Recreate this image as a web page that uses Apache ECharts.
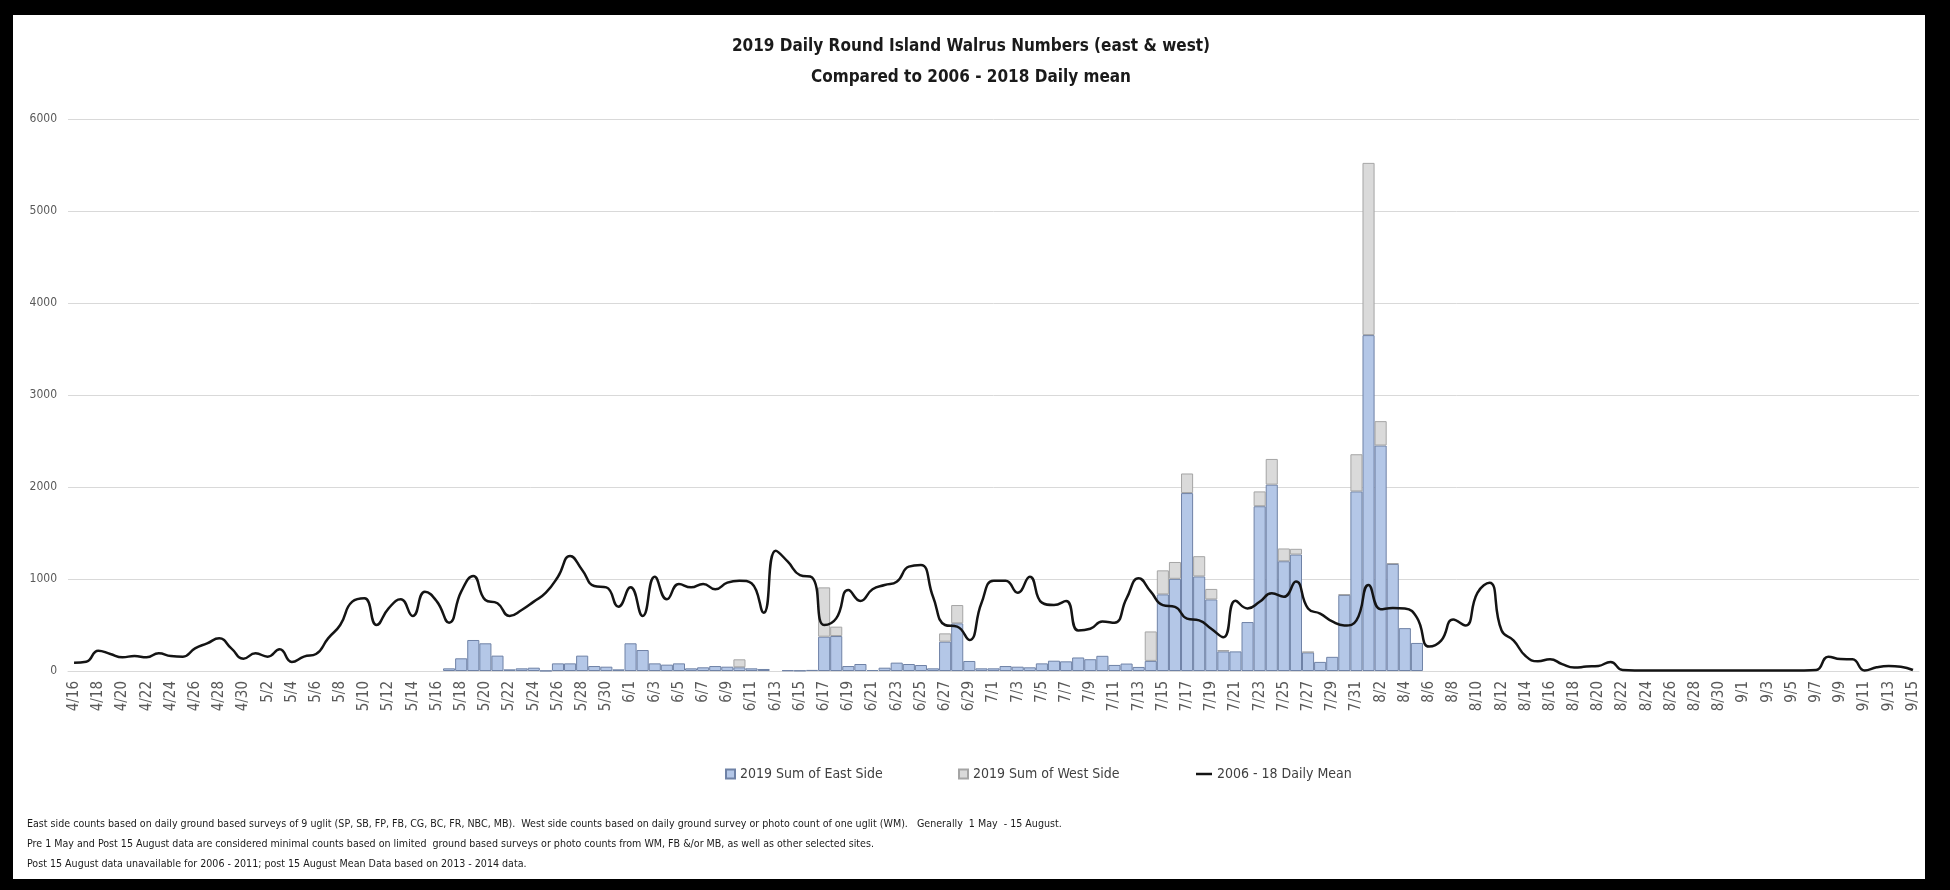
<!DOCTYPE html>
<html><head><meta charset="utf-8">
<script src="https://cdn.jsdelivr.net/npm/echarts@6/dist/echarts.min.js"></script>
<style>
html,body{margin:0;padding:0;background:#000;width:1950px;height:890px;overflow:hidden}
#chart{position:absolute;left:13px;top:15px;width:1912px;height:864px;background:#fff;box-sizing:border-box}
</style></head><body><div id="chart"></div>
<script>
// ---------- DATA ----------
const categories = [
 '4/16','4/17','4/18','4/19','4/20','4/21','4/22','4/23','4/24','4/25','4/26','4/27','4/28','4/29','4/30',
 '5/1','5/2','5/3','5/4','5/5','5/6','5/7','5/8','5/9','5/10','5/11','5/12','5/13','5/14','5/15','5/16','5/17','5/18','5/19','5/20','5/21','5/22','5/23','5/24','5/25','5/26','5/27','5/28','5/29','5/30','5/31',
 '6/1','6/2','6/3','6/4','6/5','6/6','6/7','6/8','6/9','6/10','6/11','6/12','6/13','6/14','6/15','6/16','6/17','6/18','6/19','6/20','6/21','6/22','6/23','6/24','6/25','6/26','6/27','6/28','6/29','6/30',
 '7/1','7/2','7/3','7/4','7/5','7/6','7/7','7/8','7/9','7/10','7/11','7/12','7/13','7/14','7/15','7/16','7/17','7/18','7/19','7/20','7/21','7/22','7/23','7/24','7/25','7/26','7/27','7/28','7/29','7/30','7/31',
 '8/1','8/2','8/3','8/4','8/5','8/6','8/7','8/8','8/9','8/10','8/11','8/12','8/13','8/14','8/15','8/16','8/17','8/18','8/19','8/20','8/21','8/22','8/23','8/24','8/25','8/26','8/27','8/28','8/29','8/30','8/31',
 '9/1','9/2','9/3','9/4','9/5','9/6','9/7','9/8','9/9','9/10','9/11','9/12','9/13','9/14','9/15'
];
const _ = null;
const eastSide = [
 _,_,_,_,_,_,_,_,_,_,_,_,_,_,_,
 _,_,_,_,_,_,_,_,_,_,_,_,_,_,_,_,29,138,337,301,167,18,29,36,3,83,83,167,54,47,18,
 301,228,83,69,83,29,40,54,47,40,29,22,_,8,5,12,373,380,54,76,11,36,91,76,65,29,319,518,109,29,
 29,54,47,40,83,112,105,147,128,165,66,81,44,110,833,1002,1934,1028,778,213,213,532,1791,2026,1193,1266,202,99,154,826,1952,
 3651,2451,1163,466,305,_,_,_,_,_,_,_,_,_,_,_,_,_,_,_,_,_,_,_,_,_,_,_,_,_,_,
 _,_,_,_,_,_,_,_,_,_,_,_,_,_,_
];
const westSide = [
 _,_,_,_,_,_,_,_,_,_,_,_,_,_,_,
 _,_,_,_,_,_,_,_,_,_,_,_,_,_,_,_,_,_,_,_,_,_,_,_,_,_,_,_,_,_,_,
 _,_,_,_,_,_,_,_,_,87,_,_,_,_,_,_,536,102,_,_,_,_,_,_,_,_,90,199,_,_,
 _,_,_,_,_,_,_,_,_,_,_,_,_,320,261,183,213,220,114,15,_,_,161,279,139,62,7,_,_,7,404,
 1872,265,8,_,_,_,_,_,_,_,_,_,_,_,_,_,_,_,_,_,_,_,_,_,_,_,_,_,_,_,_,
 _,_,_,_,_,_,_,_,_,_,_,_,_,_,_
];
const dailyMean = [
 90,100,221,185,149,163,149,192,163,156,246,300,355,246,134,
 192,156,236,98,156,185,355,500,754,790,500,681,779,598,862,754,525,862,1033,772,736,598,663,754,851,1025,1250,1098,924,909,699,
 909,598,1025,779,946,909,946,888,960,982,953,634,1308,1188,1043,1018,500,572,880,761,888,935,971,1134,1152,808,500,482,337,736,
 982,982,851,1025,743,717,760,440,459,539,525,789,1009,862,716,697,569,550,459,367,763,679,752,844,807,972,679,624,539,495,550,
 936,672,686,679,580,265,330,560,495,850,960,440,330,160,105,128,75,37,48,55,99,10,6,6,6,6,6,6,6,6,6,
 6,6,6,6,6,6,10,156,130,127,5,40,54,47,11
];
const yTickValues = [0,1000,2000,3000,4000,5000,6000];
const seriesNames = ['2019 Sum of East Side','2019 Sum of West Side','2006 - 18 Daily Mean'];
const titleLines = ['2019 Daily Round Island Walrus Numbers (east & west)','Compared to 2006 - 2018 Daily mean'];
const footnotes = [
 'East side counts based on daily ground based surveys of 9 uglit (SP, SB, FP, FB, CG, BC, FR, NBC, MB).  West side counts based on daily ground survey or photo count of one uglit (WM).   Generally  1 May  - 15 August.',
 'Pre 1 May and Post 15 August data are considered minimal counts based on limited  ground based surveys or photo counts from WM, FB &/or MB, as well as other selected sites.',
 'Post 15 August data unavailable for 2006 - 2011; post 15 August Mean Data based on 2013 - 2014 data.'
];

// ---------- CHART ----------
const FONT = '"DejaVu Sans Condensed","Liberation Sans",sans-serif';
const chart = echarts.init(document.getElementById('chart'), null, {renderer:'canvas'});
const legendBase = {orient:'horizontal', top:752, itemGap:5, padding:0, selectedMode:false,
  textStyle:{fontFamily:FONT, fontSize:14, color:'#404040'}};
chart.setOption({
  backgroundColor:'#fff',
  animation:false,
  grid:{left:55, right:6, top:104, bottom:208, containLabel:false},
  legend:[
    Object.assign({}, legendBase, {data:[{name:seriesNames[0], icon:'rect'}], left:712, itemWidth:9, itemHeight:9}),
    Object.assign({}, legendBase, {data:[{name:seriesNames[1], icon:'rect'}], left:945, itemWidth:9, itemHeight:9}),
    Object.assign({}, legendBase, {data:[{name:seriesNames[2], icon:'rect'}], left:1183, itemWidth:16, itemHeight:2.5})
  ],
  xAxis:{
    type:'category', data:categories, boundaryGap:true,
    axisLine:{show:true, lineStyle:{color:'#d9d9d9', width:1}},
    axisTick:{show:false},
    axisLabel:{interval:1, rotate:90, margin:10, fontFamily:FONT, fontSize:15, color:'#595959'}
  },
  yAxis:{
    type:'value', min:yTickValues[0], max:yTickValues[yTickValues.length-1],
    interval:yTickValues[1]-yTickValues[0],
    axisLine:{show:false}, axisTick:{show:false},
    axisLabel:{margin:11, fontFamily:FONT, fontSize:12, color:'#595959', formatter:function(v){return String(v);}},
    splitLine:{lineStyle:{color:'#d9d9d9', width:1}}
  },
  series:[
    {name:seriesNames[0], type:'bar', stack:'total', data:eastSide, barCategoryGap:'0%',
     itemStyle:{color:'#b4c7e7', borderColor:'#6f82a6', borderWidth:1}},
    {name:seriesNames[1], type:'bar', stack:'total', data:westSide, barCategoryGap:'0%',
     itemStyle:{color:'#dadada', borderColor:'#a5a5a5', borderWidth:1}},
    {name:seriesNames[2], type:'line', data:dailyMean, smooth:0.5, symbol:'none', z:5,
     lineStyle:{color:'#141414', width:2.5}, itemStyle:{color:'#141414'}}
  ],
  graphic:[
    {type:'text', x:958, y:32, style:{text:titleLines[0], font:'bold 17px '+FONT, fill:'#1a1a1a', align:'center', verticalAlign:'middle'}},
    {type:'text', x:958, y:63, style:{text:titleLines[1], font:'bold 17px '+FONT, fill:'#1a1a1a', align:'center', verticalAlign:'middle'}},
    {type:'text', x:14, y:809, style:{text:footnotes[0], font:'10.6px '+FONT, fill:'#1a1a1a', align:'left', verticalAlign:'middle'}},
    {type:'text', x:14, y:829, style:{text:footnotes[1], font:'10.6px '+FONT, fill:'#1a1a1a', align:'left', verticalAlign:'middle'}},
    {type:'text', x:14, y:849, style:{text:footnotes[2], font:'10.6px '+FONT, fill:'#1a1a1a', align:'left', verticalAlign:'middle'}}
  ]
});
</script></body></html>
